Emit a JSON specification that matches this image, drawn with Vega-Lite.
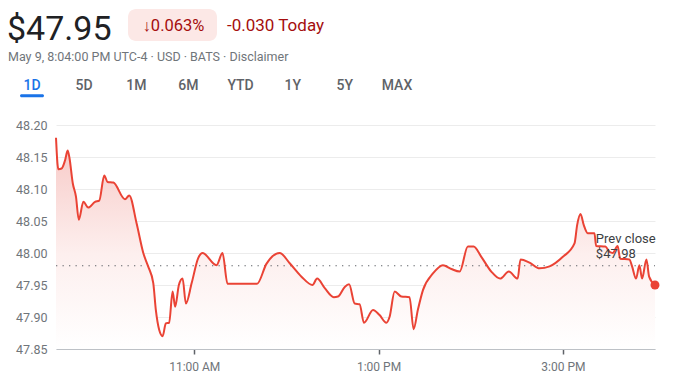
{
  "$schema": "https://vega.github.io/schema/vega-lite/v6.json",
  "width": 599,
  "height": 224,
  "autosize": {"type": "none"},
  "padding": {"left": 56, "top": 125, "right": 22, "bottom": 43},
  "background": "white",
  "config": {"view": {"stroke": null}, "font": "Roboto"},
  "datasets": {
    "prices": [
      {"time": "2024-05-09T09:30:00", "price": 48.18},
      {"time": "2024-05-09T09:31:30", "price": 48.131},
      {"time": "2024-05-09T09:33:40", "price": 48.132},
      {"time": "2024-05-09T09:35:55", "price": 48.145},
      {"time": "2024-05-09T09:37:35", "price": 48.16},
      {"time": "2024-05-09T09:38:40", "price": 48.15},
      {"time": "2024-05-09T09:40:55", "price": 48.109},
      {"time": "2024-05-09T09:43:00", "price": 48.088},
      {"time": "2024-05-09T09:44:50", "price": 48.052},
      {"time": "2024-05-09T09:47:50", "price": 48.08},
      {"time": "2024-05-09T09:51:00", "price": 48.071},
      {"time": "2024-05-09T09:55:25", "price": 48.08},
      {"time": "2024-05-09T09:58:10", "price": 48.082},
      {"time": "2024-05-09T10:01:25", "price": 48.121},
      {"time": "2024-05-09T10:03:35", "price": 48.111},
      {"time": "2024-05-09T10:07:20", "price": 48.11},
      {"time": "2024-05-09T10:14:55", "price": 48.084},
      {"time": "2024-05-09T10:17:40", "price": 48.09},
      {"time": "2024-05-09T10:22:30", "price": 48.046},
      {"time": "2024-05-09T10:26:50", "price": 48.0},
      {"time": "2024-05-09T10:30:00", "price": 47.979},
      {"time": "2024-05-09T10:33:20", "price": 47.953},
      {"time": "2024-05-09T10:35:00", "price": 47.911},
      {"time": "2024-05-09T10:37:10", "price": 47.88},
      {"time": "2024-05-09T10:39:25", "price": 47.87},
      {"time": "2024-05-09T10:41:30", "price": 47.89},
      {"time": "2024-05-09T10:43:40", "price": 47.891},
      {"time": "2024-05-09T10:45:55", "price": 47.94},
      {"time": "2024-05-09T10:47:35", "price": 47.916},
      {"time": "2024-05-09T10:50:00", "price": 47.95},
      {"time": "2024-05-09T10:52:25", "price": 47.96},
      {"time": "2024-05-09T10:54:35", "price": 47.921},
      {"time": "2024-05-09T10:58:20", "price": 47.953},
      {"time": "2024-05-09T11:02:35", "price": 47.992},
      {"time": "2024-05-09T11:05:25", "price": 48.0},
      {"time": "2024-05-09T11:14:30", "price": 47.981},
      {"time": "2024-05-09T11:18:25", "price": 48.0},
      {"time": "2024-05-09T11:21:40", "price": 47.952},
      {"time": "2024-05-09T11:29:40", "price": 47.952},
      {"time": "2024-05-09T11:40:55", "price": 47.952},
      {"time": "2024-05-09T11:47:00", "price": 47.983},
      {"time": "2024-05-09T11:55:40", "price": 48.0},
      {"time": "2024-05-09T12:02:10", "price": 47.984},
      {"time": "2024-05-09T12:09:50", "price": 47.963},
      {"time": "2024-05-09T12:17:00", "price": 47.95},
      {"time": "2024-05-09T12:20:00", "price": 47.96},
      {"time": "2024-05-09T12:25:00", "price": 47.945},
      {"time": "2024-05-09T12:30:50", "price": 47.931},
      {"time": "2024-05-09T12:33:35", "price": 47.932},
      {"time": "2024-05-09T12:38:00", "price": 47.947},
      {"time": "2024-05-09T12:40:50", "price": 47.951},
      {"time": "2024-05-09T12:44:30", "price": 47.921},
      {"time": "2024-05-09T12:47:40", "price": 47.92},
      {"time": "2024-05-09T12:50:30", "price": 47.891},
      {"time": "2024-05-09T12:56:25", "price": 47.911},
      {"time": "2024-05-09T13:00:40", "price": 47.903},
      {"time": "2024-05-09T13:05:05", "price": 47.891},
      {"time": "2024-05-09T13:07:10", "price": 47.9},
      {"time": "2024-05-09T13:10:30", "price": 47.94},
      {"time": "2024-05-09T13:14:50", "price": 47.932},
      {"time": "2024-05-09T13:20:10", "price": 47.931},
      {"time": "2024-05-09T13:22:50", "price": 47.881},
      {"time": "2024-05-09T13:25:35", "price": 47.911},
      {"time": "2024-05-09T13:28:55", "price": 47.942},
      {"time": "2024-05-09T13:35:25", "price": 47.968},
      {"time": "2024-05-09T13:41:55", "price": 47.981},
      {"time": "2024-05-09T13:47:25", "price": 47.975},
      {"time": "2024-05-09T13:52:50", "price": 47.971},
      {"time": "2024-05-09T13:58:10", "price": 48.01},
      {"time": "2024-05-09T14:01:55", "price": 48.01},
      {"time": "2024-05-09T14:06:55", "price": 47.994},
      {"time": "2024-05-09T14:13:25", "price": 47.971},
      {"time": "2024-05-09T14:19:10", "price": 47.96},
      {"time": "2024-05-09T14:24:50", "price": 47.971},
      {"time": "2024-05-09T14:30:35", "price": 47.96},
      {"time": "2024-05-09T14:32:25", "price": 47.99},
      {"time": "2024-05-09T14:38:20", "price": 47.985},
      {"time": "2024-05-09T14:44:50", "price": 47.976},
      {"time": "2024-05-09T14:51:20", "price": 47.979},
      {"time": "2024-05-09T15:00:00", "price": 47.994},
      {"time": "2024-05-09T15:07:35", "price": 48.015},
      {"time": "2024-05-09T15:09:20", "price": 48.044},
      {"time": "2024-05-09T15:11:30", "price": 48.061},
      {"time": "2024-05-09T15:13:35", "price": 48.044},
      {"time": "2024-05-09T15:16:10", "price": 48.031},
      {"time": "2024-05-09T15:20:35", "price": 48.031},
      {"time": "2024-05-09T15:21:40", "price": 48.011},
      {"time": "2024-05-09T15:27:40", "price": 48.01},
      {"time": "2024-05-09T15:30:20", "price": 48.002},
      {"time": "2024-05-09T15:32:30", "price": 48.0},
      {"time": "2024-05-09T15:35:40", "price": 48.011},
      {"time": "2024-05-09T15:37:20", "price": 47.991},
      {"time": "2024-05-09T15:43:20", "price": 47.99},
      {"time": "2024-05-09T15:45:05", "price": 47.979},
      {"time": "2024-05-09T15:47:40", "price": 47.96},
      {"time": "2024-05-09T15:49:50", "price": 47.981},
      {"time": "2024-05-09T15:51:35", "price": 47.96},
      {"time": "2024-05-09T15:54:25", "price": 47.99},
      {"time": "2024-05-09T15:56:10", "price": 47.963},
      {"time": "2024-05-09T16:00:00", "price": 47.95}
    ],
    "prev": [
      {"label": "Prev close\n$47.98", "price": 47.98, "start": "2024-05-09T09:30:00", "end": "2024-05-09T16:00:00"}
    ],
    "tabs": [
      {"tab": "1D"}, {"tab": "5D"}, {"tab": "1M"}, {"tab": "6M"},
      {"tab": "YTD"}, {"tab": "1Y"}, {"tab": "5Y"}, {"tab": "MAX"}
    ]
  },
  "resolve": {"scale": {"x": "independent", "y": "independent"}},
  "layer": [
    {
      "layer": [
        {
          "data": {"name": "prices"},
          "mark": {
            "type": "area",
            "interpolate": "monotone",
            "fill": {
              "gradient": "linear",
              "x1": 0, "y1": 0, "x2": 0, "y2": 1,
              "stops": [
                {"offset": 0, "color": "#f7c8c5"},
                {"offset": 0.55, "color": "#fdefee"},
                {"offset": 1, "color": "#ffffff"}
              ]
            }
          },
          "encoding": {
            "x": {
              "field": "time",
              "type": "temporal",
              "scale": {
                "domain": [
                  {"year": 2024, "month": 5, "date": 9, "hours": 9, "minutes": 30},
                  {"year": 2024, "month": 5, "date": 9, "hours": 16}
                ]
              },
              "axis": {
                "title": null,
                "grid": false,
                "values": [
                  {"year": 2024, "month": 5, "date": 9, "hours": 11},
                  {"year": 2024, "month": 5, "date": 9, "hours": 13},
                  {"year": 2024, "month": 5, "date": 9, "hours": 15}
                ],
                "tickCount": 10,
                "format": "%-I:%M %p",
                "labelOverlap": false,
                "labelFlush": false,
                "labelFont": "Roboto",
                "labelFontSize": 12,
                "labelColor": "#70757a",
                "labelPadding": 7,
                "domainColor": "#bdc1c6",
                "domainWidth": 1,
                "tickColor": "#5f6368",
                "tickWidth": 1.5,
                "tickSize": 5
              }
            },
            "y": {
              "field": "price",
              "type": "quantitative",
              "scale": {"domain": [47.85, 48.2], "zero": false, "nice": false},
              "axis": {
                "title": null,
                "values": [47.85, 47.9, 47.95, 48.0, 48.05, 48.1, 48.15, 48.2],
                "tickCount": 12,
                "format": ".2f",
                "labelOverlap": false,
                "labelFlush": false,
                "labelBound": false,
                "grid": true,
                "gridColor": "#ececec",
                "gridWidth": 1,
                "domain": false,
                "ticks": false,
                "labelPadding": 9,
                "labelFont": "Roboto",
                "labelFontSize": 12.5,
                "labelColor": "#70757a"
              }
            },
            "y2": {"datum": 47.85}
          }
        },
        {
          "data": {"name": "prev"},
          "mark": {"type": "rule", "color": "#5f6368", "strokeWidth": 1.1, "strokeDash": [1.3, 5.2]},
          "encoding": {
            "x": {"field": "start", "type": "temporal"},
            "x2": {"field": "end"},
            "y": {"field": "price", "type": "quantitative"}
          }
        },
        {
          "data": {"name": "prices"},
          "mark": {"type": "line", "interpolate": "monotone", "color": "#ea4335", "strokeWidth": 2},
          "encoding": {
            "x": {"field": "time", "type": "temporal"},
            "y": {"field": "price", "type": "quantitative"}
          }
        },
        {
          "data": {"name": "prev"},
          "mark": {
            "type": "text",
            "align": "left",
            "baseline": "alphabetic",
            "lineBreak": "\n",
            "lineHeight": 15,
            "dy": -22.5,
            "font": "Roboto",
            "fontSize": 13,
            "color": "#3c4043"
          },
          "encoding": {
            "x": {"datum": {"year": 2024, "month": 5, "date": 9, "hours": 15, "minutes": 21, "seconds": 30}, "type": "temporal"},
            "y": {"field": "price", "type": "quantitative"},
            "text": {"field": "label"}
          }
        },
        {
          "data": {"name": "prices"},
          "transform": [
            {"window": [{"op": "row_number", "as": "rn"}], "sort": [{"field": "time", "order": "descending"}]},
            {"filter": "datum.rn == 1"}
          ],
          "mark": {"type": "point", "filled": true, "color": "#ea4335", "opacity": 1, "size": 80},
          "encoding": {
            "x": {"field": "time", "type": "temporal"},
            "y": {"field": "price", "type": "quantitative"}
          }
        }
      ]
    },
    {
      "data": {"values": [{"t": "$47.95"}]},
      "mark": {"type": "text", "align": "left", "baseline": "alphabetic", "font": "Roboto", "fontSize": 34, "color": "#202124"},
      "encoding": {"x": {"value": -49}, "y": {"value": -85.5}, "text": {"field": "t"}}
    },
    {
      "data": {"values": [{"t": "pill"}]},
      "mark": {"type": "rect", "fill": "#fce8e6", "cornerRadius": 8},
      "encoding": {"x": {"value": 72}, "x2": {"value": 161}, "y": {"value": -116}, "y2": {"value": -84}}
    },
    {
      "data": {"values": [{"t": "↓0.063%"}]},
      "mark": {"type": "text", "align": "center", "baseline": "alphabetic", "font": "Roboto", "fontSize": 16.5, "color": "#a50e0e"},
      "encoding": {"x": {"value": 117.5}, "y": {"value": -94.3}, "text": {"field": "t"}}
    },
    {
      "data": {"values": [{"t": "-0.030 Today"}]},
      "mark": {"type": "text", "align": "left", "baseline": "alphabetic", "font": "Roboto", "fontSize": 17, "color": "#a50e0e"},
      "encoding": {"x": {"value": 171}, "y": {"value": -94.3}, "text": {"field": "t"}}
    },
    {
      "data": {"values": [{"t": "May 9, 8:04:00 PM UTC-4 · USD · BATS · Disclaimer"}]},
      "mark": {"type": "text", "align": "left", "baseline": "alphabetic", "font": "Roboto", "fontSize": 12.5, "color": "#70757a"},
      "encoding": {"x": {"value": -48}, "y": {"value": -64}, "text": {"field": "t"}}
    },
    {
      "data": {"name": "tabs"},
      "mark": {"type": "text", "align": "center", "baseline": "alphabetic", "font": "Roboto", "fontSize": 14, "fontWeight": 500},
      "encoding": {
        "x": {"field": "tab", "type": "nominal", "sort": null, "scale": {"type": "point", "range": [-24, 341], "padding": 0}, "axis": null},
        "y": {"value": -35},
        "text": {"field": "tab"},
        "color": {"condition": {"test": "datum.tab === '1D'", "value": "#1a73e8"}, "value": "#5f6368"}
      }
    },
    {
      "data": {"values": [{"t": "underline"}]},
      "mark": {"type": "rect", "fill": "#1a73e8", "cornerRadius": 1.5},
      "encoding": {"x": {"value": -36}, "x2": {"value": -12}, "y": {"value": -30.7}, "y2": {"value": -27.7}}
    }
  ]
}
